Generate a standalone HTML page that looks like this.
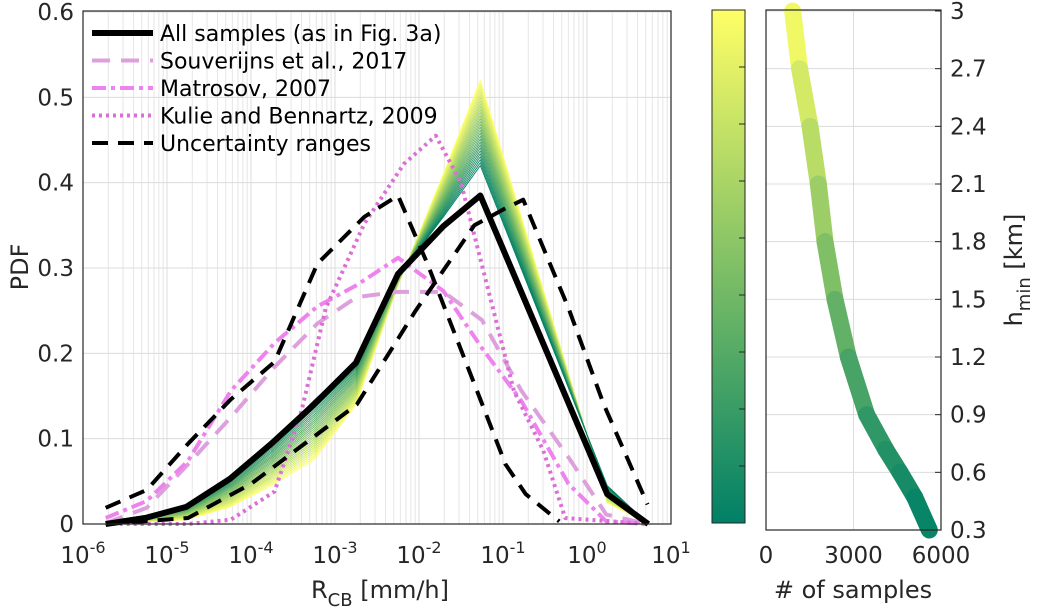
<!DOCTYPE html>
<html><head><meta charset="utf-8"><style>
body{margin:0;background:#fff;}
svg{display:block;font-family:"DejaVu Sans","Liberation Sans",sans-serif;}
</style></head><body>
<svg id="chart" width="1038" height="614" viewBox="0 0 1038 614">
<g id="main"></g>
<g id="cbar"></g>
<g id="side"></g>
</svg>
<script>
// ---- data ----
const binsLog = [-5.73,-5.26,-4.77,-4.25,-3.76,-3.25,-2.75,-2.25,-1.71,-1.27,0.24,0.73];
const allSamples = [0.0,0.007,0.02,0.053,0.094,0.14,0.189,0.293,0.349,0.385,0.035,0.0];
const darkMember = [0.003,0.01,0.022,0.055,0.095,0.145,0.19,0.29,0.36,0.42,0.045,0.0];
const yellowMember = [0.0,0.002,0.005,0.02,0.045,0.075,0.14,0.28,0.41,0.52,0.025,0.0];
const nMembers = 30;
const upperLog = [-5.73,-5.24,-4.75,-4.24,-3.72,-3.21,-2.65,-2.25,-1.9,-1.34,-0.97,-0.73,-0.33];
const upperVals = [0.019,0.04,0.094,0.146,0.19,0.305,0.36,0.385,0.305,0.164,0.07,0.035,0.003];
const lowerLog = [-5.73,-4.75,-4.0,-2.74,-2.04,-1.34,-0.97,-0.76,-0.22,0.2,0.72];
const lowerVals = [0.0,0.007,0.047,0.14,0.25,0.35,0.37,0.38,0.253,0.14,0.023];
const matLog = [-5.73,-5.24,-4.75,-4.24,-3.72,-3.21,-2.74,-2.25,-1.71,-1.25,-0.78,-0.22,0.23,0.72];
const matVals = [0.007,0.027,0.074,0.156,0.212,0.255,0.28,0.312,0.273,0.206,0.144,0.047,0.003,0.0];
const souLog = [-5.73,-5.24,-4.75,-4.24,-3.72,-3.21,-2.74,-2.25,-1.71,-1.25,-0.78,-0.22,0.23,0.72];
const souVals = [0.001,0.019,0.07,0.125,0.184,0.235,0.266,0.272,0.272,0.239,0.156,0.078,0.011,0.0];
const kulLog = [-5.73,-4.75,-4.24,-3.72,-3.4,-3.11,-2.65,-2.18,-1.8,-1.5,-0.87,-0.52,-0.26,0.72];
const kulVals = [0.0,0.0,0.005,0.038,0.132,0.253,0.352,0.422,0.455,0.40,0.156,0.086,0.007,0.0];
const yTicks = [0,0.1,0.2,0.3,0.4,0.5,0.6];
const xTickExp = [-6,-5,-4,-3,-2,-1,0,1];
const hSamples = [914,1150,1509,1794,2023,2366,2823,3451,4100,4594,5100,5600];
const hValues = [3,2.7,2.4,2.1,1.8,1.5,1.2,0.9,0.72,0.6,0.47,0.3];
const hTicks = [0.3,0.6,0.9,1.2,1.5,1.8,2.1,2.4,2.7,3];
const nTicks = [0,3000,6000];

const NS="http://www.w3.org/2000/svg";
function mk(parent,tag,attrs,text){const e=document.createElementNS(NS,tag);for(const k in attrs)e.setAttribute(k,attrs[k]);if(text!==undefined)e.textContent=text;parent.appendChild(e);return e;}
const X=l=>83+(l+6)*84;
const Y=v=>524-v*(512/0.6);
function summer(t){return `rgb(${Math.round(255*t)},${Math.round(127.5+127.5*t)},102)`;}
const main=document.getElementById('main');
for(let d=-6;d<1;d++){for(let k=2;k<=9;k++){const x=X(d+Math.log10(k));const g=mk(main,'line',{x1:x,x2:x,y1:11,y2:524,stroke:'#e6e6e6','stroke-width':1});

}}
xTickExp.forEach(e=>{const x=X(e);const g=mk(main,'line',{x1:x,x2:x,y1:11,y2:524,stroke:'#dcdcdc','stroke-width':1});


const t=mk(main,'text',{x:x,y:563,'text-anchor':'middle','font-size':23,fill:'#262626'});


mk(t,'tspan',{},'10');mk(t,'tspan',{dy:-10,'font-size':16},String(e));});
yTicks.forEach(v=>{const y=Y(v);const g=mk(main,'line',{x1:83,x2:671,y1:y,y2:y,stroke:'#dcdcdc','stroke-width':1});


const t=mk(main,'text',{x:74,y:y+8,'text-anchor':'end','font-size':23,fill:'#262626'},String(v));

});
function line(parent,xs,ys,style,name){const d=xs.map((l,i)=>(i?'L':'M')+X(l).toFixed(1)+','+Y(ys[i]).toFixed(1)).join('');const p=mk(parent,'path',Object.assign({d:d,fill:'none','stroke-linejoin':'round'},style));

return p;}
for(let i=nMembers-1;i>=0;i--){const t=i/(nMembers-1);const vals=darkMember.map((v,j)=>v+(yellowMember[j]-v)*t);
line(main,binsLog,vals,{stroke:summer(t),'stroke-width':0.9},'ensemble-line');}
line(main,souLog,souVals,{stroke:'#dda0dd','stroke-width':4,'stroke-dasharray':'18,11'},'souverijns-line');
line(main,matLog,matVals,{stroke:'#ee82ee','stroke-width':4,'stroke-dasharray':'14,5,4,5'},'matrosov-line');
line(main,kulLog,kulVals,{stroke:'#da70d6','stroke-width':4,'stroke-dasharray':'3,4'},'kulie-line');
line(main,upperLog,upperVals,{stroke:'#000','stroke-width':4,'stroke-dasharray':'16,10'},'uncertainty-upper');
line(main,lowerLog,lowerVals,{stroke:'#000','stroke-width':4,'stroke-dasharray':'16,10'},'uncertainty-lower');
line(main,binsLog,allSamples,{stroke:'#000','stroke-width':6},'all-samples-line');
const box=mk(main,'rect',{x:83,y:11,width:588,height:513,fill:'none',stroke:'#262626','stroke-width':1.2});


const leg=[['All samples (as in Fig. 3a)',{stroke:'#000','stroke-width':6}],['Souverijns et al., 2017',{stroke:'#dda0dd','stroke-width':4,'stroke-dasharray':'18,11'}],['Matrosov, 2007',{stroke:'#ee82ee','stroke-width':4,'stroke-dasharray':'14,5,4,5'}],['Kulie and Bennartz, 2009',{stroke:'#da70d6','stroke-width':4,'stroke-dasharray':'3,4'}],['Uncertainty ranges',{stroke:'#000','stroke-width':4,'stroke-dasharray':'16,10'}]];
const lg=mk(main,'g',{});


leg.forEach((e,i)=>{const y=33+i*27.5;const g=mk(lg,'g',{});


mk(g,'line',Object.assign({x1:92,x2:153,y1:y,y2:y},e[1]));mk(g,'text',{x:160,y:y+8,'font-size':22,fill:'#000'},e[0]);});
let t=mk(main,'text',{transform:'translate(28,267) rotate(-90)','text-anchor':'middle','font-size':24,fill:'#262626'},'PDF');


t=mk(main,'text',{x:380,y:598,'text-anchor':'middle','font-size':24,fill:'#262626'});


mk(t,'tspan',{},'R');mk(t,'tspan',{dy:8,'font-size':18},'CB');mk(t,'tspan',{dy:-8},' [mm/h]');
const cb=document.getElementById('cbar');
const defs=mk(cb,'defs',{});const gr=mk(defs,'linearGradient',{id:'sg',x1:0,y1:1,x2:0,y2:0});
mk(gr,'stop',{offset:0,'stop-color':summer(0)});mk(gr,'stop',{offset:1,'stop-color':summer(1)});
const cr=mk(cb,'rect',{x:712,y:10,width:33,height:513,fill:'url(#sg)',stroke:'#262626','stroke-width':1});


const CY=h=>523-(h-0.3)/2.7*513;
hTicks.forEach(h=>{if(h>0.3&&h<3){mk(cb,'line',{x1:739,x2:745,y1:CY(h),y2:CY(h),stroke:'#262626'});}});
const side=document.getElementById('side');
const SX=n=>766+n/6000*175;
const SY=h=>530-(h-0.3)/2.7*519;
nTicks.forEach(n=>{const x=SX(n);if(n>0&&n<6000)mk(side,'line',{x1:x,x2:x,y1:10,y2:530,stroke:'#dcdcdc'});
const tt=mk(side,'text',{x:x,y:563,'text-anchor':'middle','font-size':23,fill:'#262626'},String(n));

});
hTicks.forEach(h=>{const y=SY(h);mk(side,'line',{x1:766,x2:941,y1:y,y2:y,stroke:'#dcdcdc'});
mk(side,'line',{x1:935,x2:941,y1:y,y2:y,stroke:'#262626'});
const tt=mk(side,'text',{x:950,y:y+8,'font-size':23,fill:'#262626'},String(h));

});
for(let i=0;i<hSamples.length-1;i++){const hm=(hValues[i]+hValues[i+1])/2;const seg=mk(side,'line',{x1:SX(hSamples[i]),y1:SY(hValues[i]),x2:SX(hSamples[i+1]),y2:SY(hValues[i+1]),stroke:summer((hm-0.3)/2.7),'stroke-width':17,'stroke-linecap':'round'});

}
const sb=mk(side,'rect',{x:766,y:10,width:175,height:520,fill:'none',stroke:'#262626','stroke-width':1.2});


t=mk(side,'text',{x:853,y:598,'text-anchor':'middle','font-size':24,fill:'#262626'},'# of samples');


t=mk(side,'text',{transform:'translate(1022,270) rotate(-90)','text-anchor':'middle','font-size':24,fill:'#262626'});


mk(t,'tspan',{},'h');mk(t,'tspan',{dy:8,'font-size':18},'min');mk(t,'tspan',{dy:-8},' [km]');
</script>
</body></html>
